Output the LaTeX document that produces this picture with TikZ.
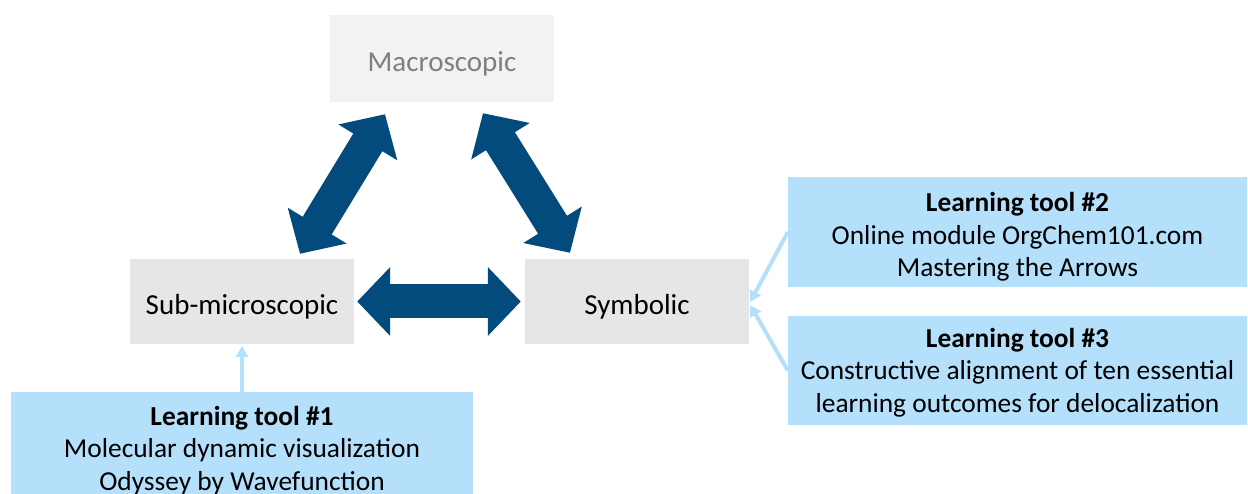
\documentclass[tikz,border=0pt]{standalone}
\usepackage{fontspec}
\setmainfont{Carlito}
\usetikzlibrary{arrows.meta,calc}

\definecolor{navy}{RGB}{3,75,125}
\definecolor{skyfill}{RGB}{180,224,252}
\definecolor{levelgray}{RGB}{230,230,230}
\definecolor{palegray}{RGB}{242,242,242}
\definecolor{dimtext}{RGB}{127,127,127}

\tikzset{
  level/.style={fill=levelgray, inner sep=0pt, minimum width=224pt, minimum height=85pt,
    text height=31.5pt, text depth=6pt, font=\fontsize{29}{35}\selectfont},
  toolbox/.style={fill=skyfill, inner sep=0pt, align=center,
    font=\fontsize{27.4}{32.5}\selectfont},
  bigarrow/.style={draw=navy, line width=34pt,
    {Triangle[width=67pt,length=33pt]}-{Triangle[width=67pt,length=33pt]}},
  toolarrow/.style={draw=skyfill, line width=4pt, -{Triangle[width=12pt,length=11pt]}}
}
% strut at the head of a text block: its height sets how low the block sits
\newcommand{\headstrut}[1]{\rule{0pt}{#1}}

\begin{document}
\begin{tikzpicture}[x=1pt,y=-1pt]
  \useasboundingbox (0,0) rectangle (1248,494);
  \clip (0,0) rectangle (1248,494);

  % the three levels of representation
  \node[level, fill=palegray, text=dimtext, minimum height=87pt] (mac) at (442,58.5) {Macroscopic};
  \node[level] (sub) at (242,301.5) {Sub-microscopic};
  \node[level] (sym) at (637,301.5) {Symbolic};

  % learning tools
  \node[toolbox, minimum width=459pt, minimum height=110pt] (lt2) at (1017.5,232)
    {\headstrut{29pt}\textbf{Learning tool \#2}\\Online module OrgChem101.com\\Mastering the Arrows};
  \node[toolbox, minimum width=459pt, minimum height=109pt] (lt3) at (1017.5,370.5)
    {\headstrut{23.5pt}\textbf{Learning tool \#3}\\Constructive alignment of ten essential\\learning outcomes for delocalization};
  \node[toolbox, minimum width=462pt, minimum height=112pt] (lt1) at (242,448)
    {\headstrut{23.5pt}\textbf{Learning tool \#1}\\Molecular dynamic visualization\\Odyssey by Wavefunction};

  % end points of the double arrows between the levels
  \coordinate (subtop) at ($(sub.north)+(58,-5)$);
  \coordinate (macleft) at ($(mac.south)+(-57,12)$);
  \coordinate (symtop) at ($(sym.north)+(-67,-6)$);
  \coordinate (macright) at ($(mac.south)+(41,11)$);

  \draw[bigarrow] (subtop) -- (macleft);
  \draw[bigarrow] (symtop) -- (macright);
  \draw[bigarrow, shorten <=3pt, shorten >=4pt] (sub.east) -- (sym.west);

  % learning tools feeding the levels
  \coordinate (symin2) at ($(sym.east)+(1,0.5)$);
  \coordinate (symin3) at ($(sym.east)+(1,3.5)$);
  \draw[toolarrow, shorten >=2pt] (lt1.north) -- (sub.south);
  \draw[toolarrow] (lt2.west) -- (symin2);
  \draw[toolarrow] (lt3.west) -- (symin3);
\end{tikzpicture}
\end{document}
